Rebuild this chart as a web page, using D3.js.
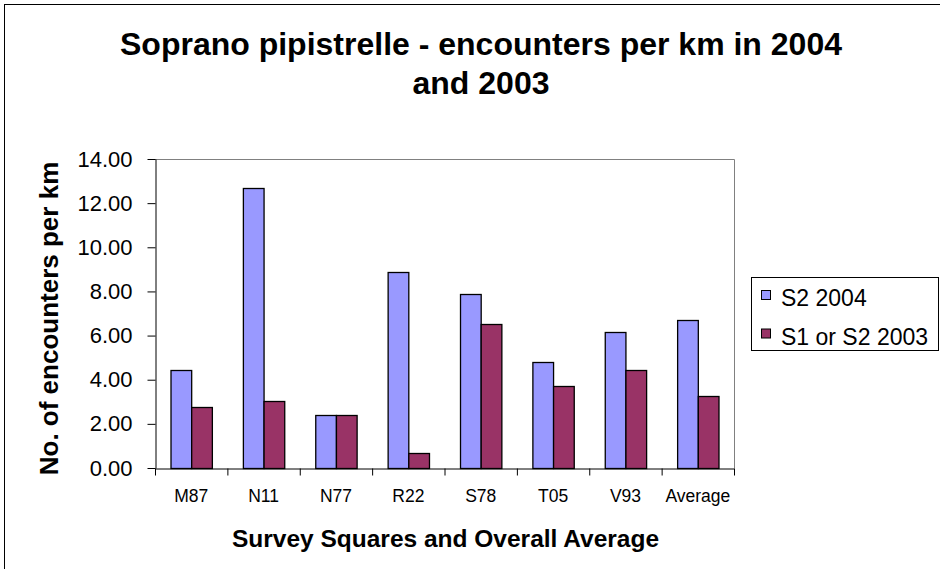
<!DOCTYPE html>
<html>
<head>
<meta charset="utf-8">
<script src="https://cdn.jsdelivr.net/npm/d3@7"></script>
<style>
  body { margin: 0; background: #fff; }
  svg text { font-family: Arial, "Liberation Sans", sans-serif; }
</style>
</head>
<body>
<div id="chart"></div>
<script>
// data
var categories = ["M87", "N11", "N77", "R22", "S78", "T05", "V93", "Average"];
var seriesNames = ["S2 2004", "S1 or S2 2003"];
var s2004 = [4.42, 12.67, 2.42, 8.86, 7.90, 4.79, 6.16, 6.71];
var s2003 = [2.76, 3.05, 2.42, 0.68, 6.51, 3.73, 4.42, 3.24];
var yTicks = [0, 2, 4, 6, 8, 10, 12, 14];
var colors = ["#9999ff", "#993366"];

var width = 940, height = 569;
var plot = {left: 155, right: 734, top: 159, bottom: 468};

var svg = d3.select("#chart").append("svg")
    .attr("width", width)
    .attr("height", height);

// outer chart frame
svg.append("rect")
    .attr("x", 4.5).attr("y", 4.5)
    .attr("width", width).attr("height", height)
    .attr("fill", "none")
    .attr("stroke", "#000");

// title
var title = svg.append("text")
    .attr("text-anchor", "middle")
    .style("font-size", "32px")
    .style("font-weight", "bold");
title.append("tspan").attr("x", 481).attr("y", 55).text("Soprano pipistrelle - encounters per km in 2004");
title.append("tspan").attr("x", 481).attr("y", 94).text("and 2003");

var x = d3.scaleBand()
    .domain(categories)
    .range([plot.left, plot.right]);

// Excel style: gap width 150% between groups
var bw = x.bandwidth();
var gap = bw * 1.5 / 3.5;
var x1 = d3.scaleBand()
    .domain(seriesNames)
    .range([gap / 2, bw - gap / 2]);

var y = d3.scaleLinear()
    .domain([0, 14])
    .range([plot.bottom, plot.top]);

// plot area border (grey top + right)
svg.append("path")
    .attr("d", "M" + plot.left + "," + (plot.top + 0.5) + "H" + (plot.right + 0.5) + "V" + plot.bottom)
    .attr("fill", "none")
    .attr("stroke", "#808080");

var rows = categories.map(function(c, i) {
    return {cat: c, vals: [s2004[i], s2003[i]]};
});

var groups = svg.append("g").selectAll("g")
    .data(rows)
    .join("g")
    .attr("transform", d => "translate(" + x(d.cat) + ",0)");

groups.selectAll("rect")
    .data(d => d.vals.map((v, j) => ({name: seriesNames[j], v: v, j: j})))
    .join("rect")
    .attr("x", d => x1(d.name) + 0.5)
    .attr("y", d => Math.round(y(d.v)) + 0.5)
    .attr("width", x1.bandwidth())
    .attr("height", d => plot.bottom - Math.round(y(d.v)))
    .attr("fill", d => colors[d.j])
    .attr("stroke", "#000")
    .attr("stroke-width", 1.3);

// y axis
var yAxis = svg.append("g")
    .attr("transform", "translate(" + (plot.left + 0.5) + ",0)")
    .call(d3.axisLeft(y)
        .tickValues(yTicks)
        .tickFormat(d3.format(".2f"))
        .tickSize(8)
        .tickSizeOuter(0)
        .tickPadding(15));
yAxis.selectAll("text")
    .style("font-size", "22px")
    .attr("fill", "#000");
yAxis.selectAll("line, path").attr("stroke", "#000");

// x axis: ticks between categories
var xEdge = d3.scaleLinear().domain([0, categories.length]).range([plot.left, plot.right]);
var xAxis = svg.append("g")
    .attr("transform", "translate(0," + (plot.bottom + 0.5) + ")")
    .call(d3.axisBottom(xEdge)
        .tickValues(d3.range(categories.length + 1))
        .tickFormat("")
        .tickSize(7)
        .tickSizeOuter(0));
xAxis.selectAll("line, path").attr("stroke", "#000");

var xLabels = svg.append("g")
    .attr("transform", "translate(0," + plot.bottom + ")")
    .call(d3.axisBottom(x).tickSize(0).tickPadding(22));
xLabels.select(".domain").remove();
xLabels.selectAll("text")
    .style("font-size", "17.5px")
    .attr("fill", "#000");

// axis titles
svg.append("text")
    .attr("x", (plot.left + plot.right) / 2 + 1)
    .attr("y", 547)
    .attr("text-anchor", "middle")
    .style("font-size", "24.5px")
    .style("font-weight", "bold")
    .text("Survey Squares and Overall Average");

svg.append("text")
    .attr("transform", "translate(58," + ((plot.top + plot.bottom) / 2 + 5) + ") rotate(-90)")
    .attr("text-anchor", "middle")
    .style("font-size", "26px")
    .style("font-weight", "bold")
    .text("No. of encounters per km");

// legend
var legend = svg.append("g");
legend.append("rect")
    .attr("x", 751.5).attr("y", 277.5)
    .attr("width", 187).attr("height", 73)
    .attr("fill", "#fff")
    .attr("stroke", "#000");

var items = legend.selectAll("g.item")
    .data(seriesNames)
    .join("g")
    .attr("class", "item")
    .attr("transform", (d, i) => "translate(0," + (i * 38.5) + ")");

items.append("rect")
    .attr("x", 761.5).attr("y", 290.5)
    .attr("width", 9).attr("height", 9)
    .attr("fill", (d, i) => colors[i])
    .attr("stroke", "#000");

items.append("text")
    .attr("x", 781)
    .attr("y", 306)
    .style("font-size", "23px")
    .text(d => d);
</script>
</body>
</html>
